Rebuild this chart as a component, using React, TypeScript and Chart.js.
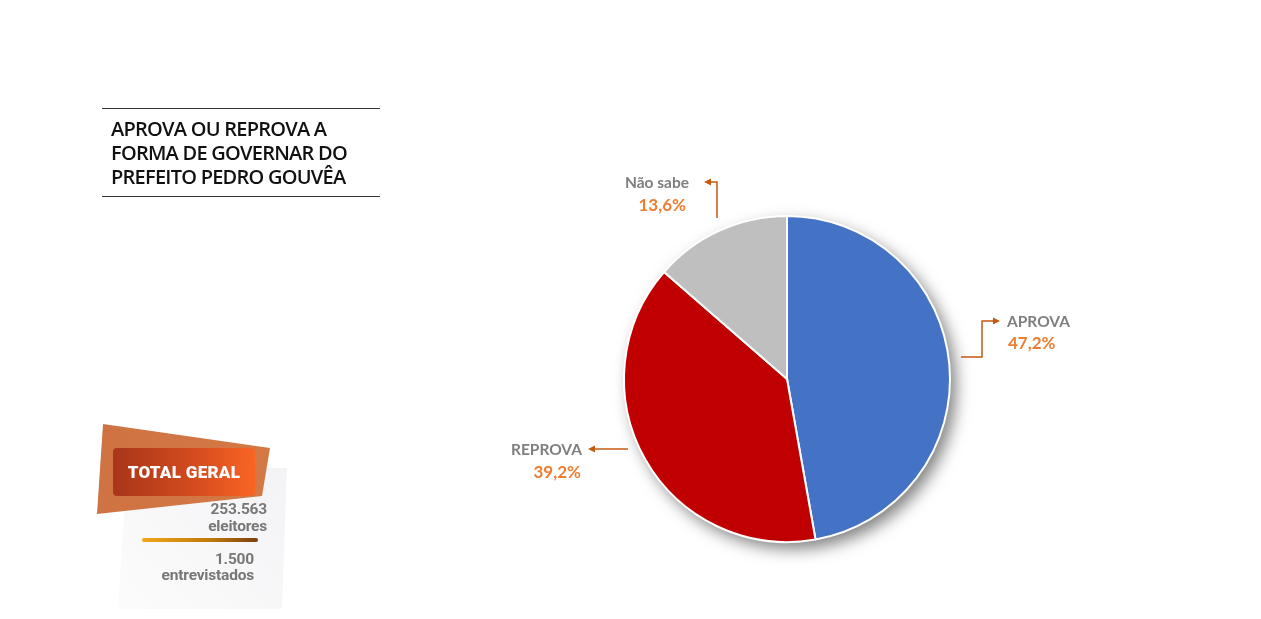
import React, { useEffect, useRef } from "react";
import { Chart, registerables } from "chart.js";

Chart.register(...registerables);

const categories = ["APROVA", "REPROVA", "Não sabe"];
const values = [47.2, 39.2, 13.6];
const sliceColors = ["#4472C4", "#C00000", "#BFBFBF"];

const titleLines = ["APROVA OU REPROVA A", "FORMA DE GOVERNAR DO", "PREFEITO PEDRO GOUVÊA"];
const badgeTitle = "TOTAL GERAL";
const badgeLines = ["253.563", "eleitores", "1.500", "entrevistados"];

// callout styling (offsets from pie centre, px)
const callouts = [
  { path: [[174, -22], [195, -22], [195, -58], [213, -58]], name: [220, -57, "left"], value: [221, -35, "left"] },
  { path: [[-159, 70], [-199, 70]], name: [-205, 71, "right"], value: [-206, 94, "right"] },
  { path: [[-70, -161], [-70, -197], [-83, -197]], name: [-98, -196, "right"], value: [-101, -173, "right"] },
];

const fmt = (v: number) => v.toFixed(1).replace(".", ",") + "%";

const shadowPlugin = {
  id: "pieShadow",
  beforeDatasetsDraw(chart: any) {
    const arc = chart.getDatasetMeta(0).data[0];
    if (!arc) return;
    const { x, y, outerRadius } = arc.getProps(["x", "y", "outerRadius"], true);
    const ctx = chart.ctx;
    ctx.save();
    ctx.shadowColor = "rgba(0,0,0,0.5)";
    ctx.shadowBlur = 16;
    ctx.shadowOffsetX = 6;
    ctx.shadowOffsetY = 7;
    ctx.beginPath();
    ctx.arc(x, y, outerRadius, 0, Math.PI * 2);
    ctx.fillStyle = "#fff";
    ctx.fill();
    ctx.restore();
  },
};

const calloutPlugin = {
  id: "callouts",
  afterDatasetsDraw(chart: any) {
    const ctx = chart.ctx;
    const meta = chart.getDatasetMeta(0);
    meta.data.forEach((arc: any, i: number) => {
      const { x, y } = arc.getProps(["x", "y"], true);
      const c = callouts[i];
      if (!c) return;
      const pts = c.path.map(([dx, dy]) => [x + dx, y + dy]);
      ctx.save();
      ctx.strokeStyle = "#C55A11";
      ctx.fillStyle = "#C55A11";
      ctx.lineWidth = 1.5;
      ctx.beginPath();
      ctx.moveTo(pts[0][0], pts[0][1]);
      for (let k = 1; k < pts.length - 1; k++) ctx.lineTo(pts[k][0], pts[k][1]);
      const a = pts[pts.length - 2];
      const b = pts[pts.length - 1];
      const ang = Math.atan2(b[1] - a[1], b[0] - a[0]);
      const hl = 7;
      const bx = b[0] - Math.cos(ang) * hl;
      const by = b[1] - Math.sin(ang) * hl;
      ctx.lineTo(bx, by);
      ctx.stroke();
      ctx.beginPath();
      ctx.moveTo(b[0], b[1]);
      ctx.lineTo(bx - Math.sin(ang) * 3.5, by + Math.cos(ang) * 3.5);
      ctx.lineTo(bx + Math.sin(ang) * 3.5, by - Math.cos(ang) * 3.5);
      ctx.closePath();
      ctx.fill();
      ctx.textBaseline = "middle";
      ctx.font = "bold 15.5px Lato, 'Open Sans', sans-serif";
      ctx.fillStyle = "#7F7F7F";
      ctx.textAlign = c.name[2] as CanvasTextAlign;
      ctx.fillText(categories[i], x + (c.name[0] as number), y + (c.name[1] as number));
      ctx.font = "bold 17px Lato, 'Open Sans', sans-serif";
      ctx.fillStyle = "#ED7D31";
      ctx.textAlign = c.value[2] as CanvasTextAlign;
      ctx.fillText(fmt(values[i]), x + (c.value[0] as number), y + (c.value[1] as number));
      ctx.restore();
    });
  },
};

export default function App() {
  const ref = useRef<HTMLCanvasElement>(null);
  useEffect(() => {
    if (!ref.current) return;
    const chart = new Chart(ref.current, {
      type: "pie",
      data: {
        labels: categories,
        datasets: [
          {
            data: values,
            backgroundColor: sliceColors,
            borderColor: "#ffffff",
            borderWidth: 2,
          },
        ],
      },
      options: {
        responsive: false,
        animation: false,
        layout: { padding: { left: 623, right: 310, top: 215, bottom: 76 } },
        plugins: { legend: { display: false }, tooltip: { enabled: false } },
      },
      plugins: [shadowPlugin, calloutPlugin],
    });
    return () => chart.destroy();
  }, []);

  const badgeText: React.CSSProperties = {
    position: "absolute",
    fontFamily: "Roboto, Inter, sans-serif",
    fontWeight: 700,
    color: "#777777",
    fontSize: 15.5,
    lineHeight: "17px",
    textAlign: "right",
    whiteSpace: "nowrap",
    letterSpacing: -0.2,
  };

  return (
    <div style={{ position: "fixed", left: 0, top: 0, width: 1261, height: 619, background: "#fff", overflow: "hidden" }}>
      <canvas ref={ref} width={1261} height={619} style={{ position: "absolute", left: 0, top: 0, width: 1261, height: 619 }} />
      {/* title */}
      <div style={{ position: "absolute", left: 102, top: 108, width: 278, height: 0, borderTop: "1.5px solid #333" }} />
      <div style={{ position: "absolute", left: 102, top: 196, width: 278, height: 0, borderTop: "1.5px solid #333" }} />
      <div
        style={{
          position: "absolute",
          left: 111,
          top: 117,
          fontFamily: "'Open Sans', sans-serif",
          fontWeight: 600,
          fontSize: 20,
          lineHeight: "24px",
          letterSpacing: -0.75,
          color: "#111",
          whiteSpace: "nowrap",
        }}
      >
        {titleLines.map((t, i) => (
          <div key={i}>{t}</div>
        ))}
      </div>
      {/* badge */}
      <div
        style={{
          position: "absolute",
          left: 0,
          top: 0,
          width: 1261,
          height: 619,
          background: "linear-gradient(225deg, #bfc0ca 0%, #dcdde4 35%, #f0f0f3 70%, #ffffff 100%)",
          clipPath: "polygon(127px 468px, 287px 468px, 282px 609px, 118px 609px)",
        }}
      />
      <div
        style={{
          position: "absolute",
          left: 0,
          top: 0,
          width: 1261,
          height: 619,
          background: "linear-gradient(100deg, #c4602c 0%, #dd7a40 50%, #f2a070 100%)",
          opacity: 0.92,
          clipPath: "polygon(103px 424px, 270px 448px, 262px 496px, 97px 514px)",
        }}
      />
      <div
        style={{
          position: "absolute",
          left: 113,
          top: 448,
          width: 142,
          height: 48,
          borderRadius: 4,
          background: "linear-gradient(90deg, #a8361a 0%, #d24a1e 55%, #fa6424 100%)",
        }}
      />
      <div
        style={{
          position: "absolute",
          left: 113,
          top: 448,
          width: 142,
          height: 48,
          lineHeight: "48px",
          textAlign: "center",
          color: "#fff",
          fontFamily: "Roboto, Inter, sans-serif",
          fontWeight: 900,
          fontSize: 17,
          letterSpacing: 0.3,
        }}
      >
        {badgeTitle}
      </div>
      <div style={{ ...badgeText, right: 1261 - 267, top: 501 }}>{badgeLines[0]}</div>
      <div style={{ ...badgeText, right: 1261 - 267, top: 518 }}>{badgeLines[1]}</div>
      <div
        style={{
          position: "absolute",
          left: 142,
          top: 538,
          width: 116,
          height: 4,
          borderRadius: 2,
          background: "linear-gradient(90deg, #f0a818 0%, #c0780a 60%, #7a4010 100%)",
        }}
      />
      <div style={{ ...badgeText, right: 1261 - 254, top: 551 }}>{badgeLines[2]}</div>
      <div style={{ ...badgeText, right: 1261 - 254, top: 567 }}>{badgeLines[3]}</div>
    </div>
  );
}
